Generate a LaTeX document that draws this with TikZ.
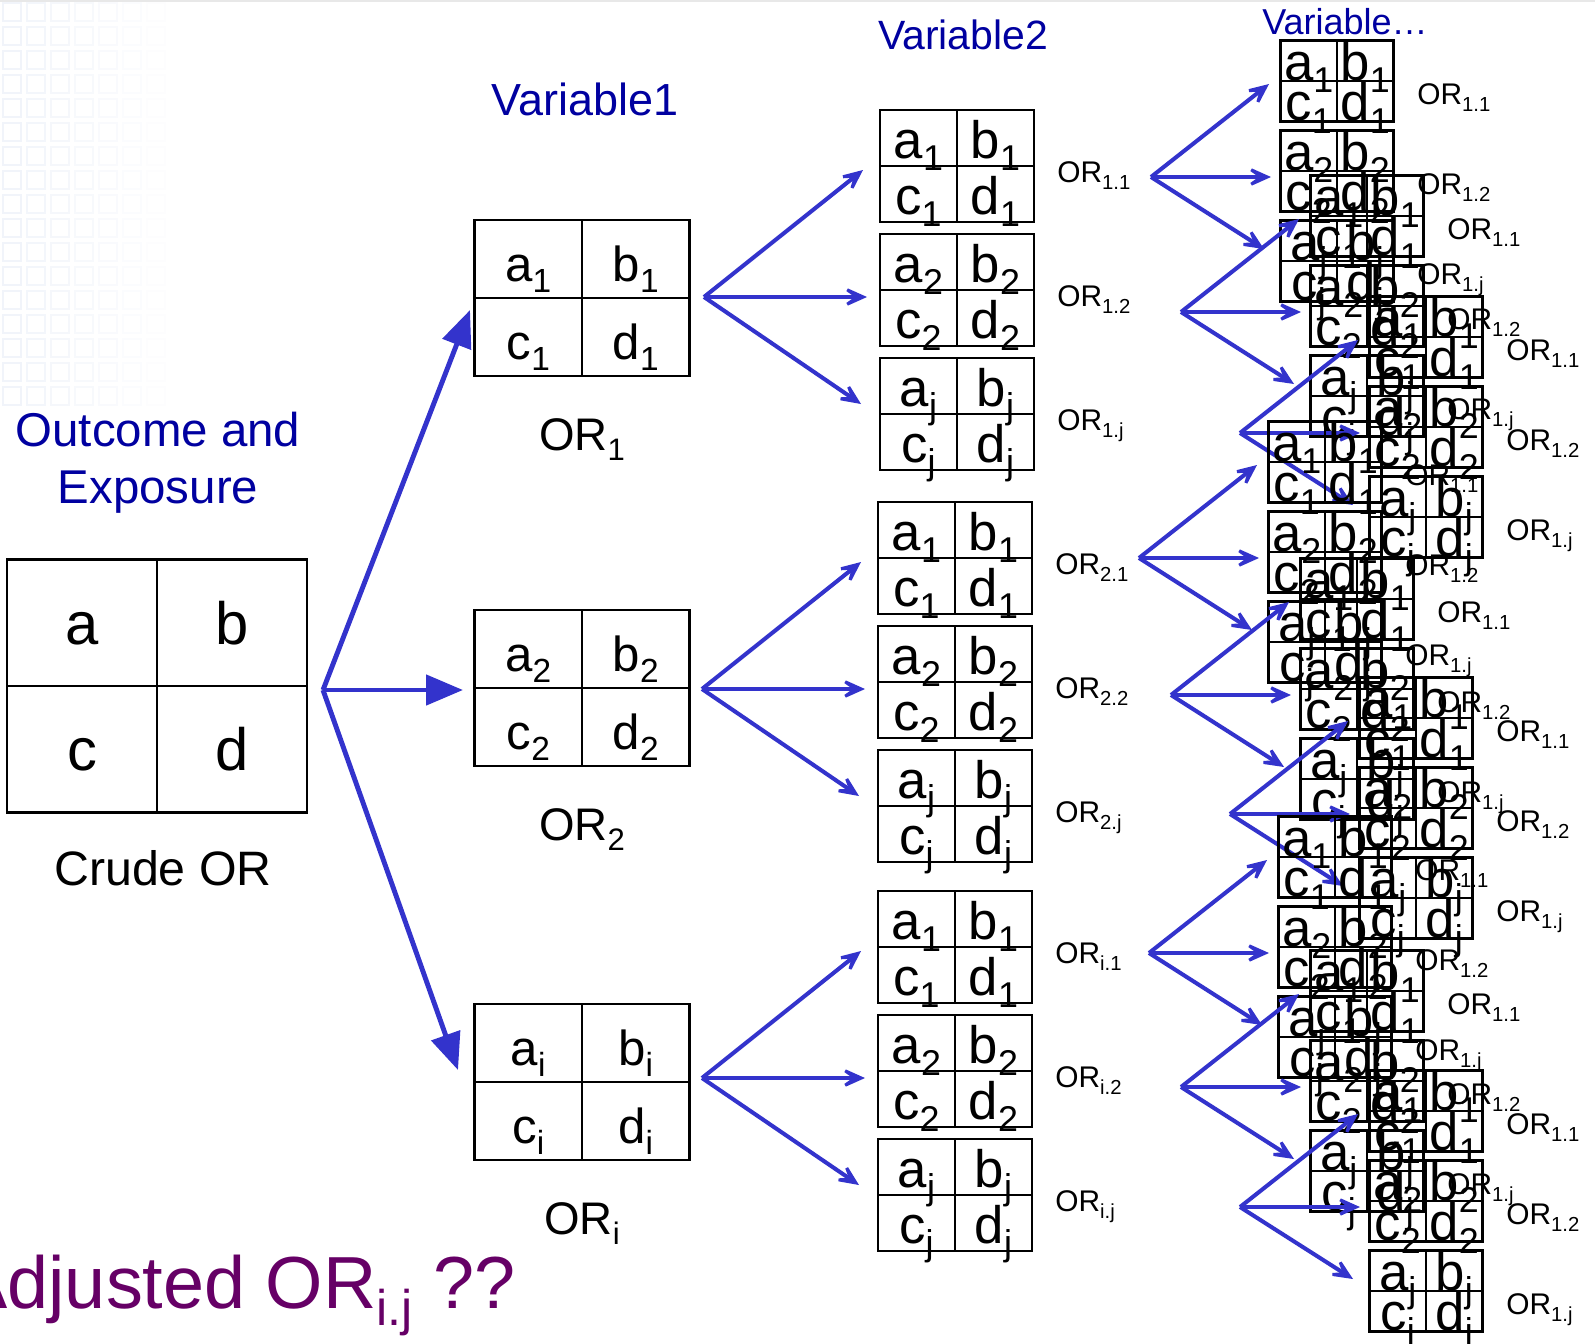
\documentclass[tikz,border=0pt]{standalone}
\usepackage{fontspec}
\setmainfont{Liberation Sans}
\usepackage{graphicx}
\usetikzlibrary{arrows.meta,calc}

\definecolor{arrowblue}{RGB}{51,51,204}
\definecolor{titleblue}{RGB}{0,0,160}
\definecolor{adjpurple}{RGB}{102,0,102}
\definecolor{slidegrid}{RGB}{241,244,250}

% lowered, smaller index
\newcommand{\sbs}[1]{\raisebox{-0.24em}{\scalebox{0.68}{#1}}}

% 2x2 table: name, centre, width, height, letter style, index, baseline lift
\newcommand{\ortable}[7]{%
  \node[tbl,minimum width=#3*0.02cm,minimum height=#4*0.02cm] (#1) at #2 {};
  \draw[tbl line] (#1.north) -- (#1.south) (#1.west) -- (#1.east);
  \node[#5] (#1-a) at ($(#1.center)+(-#3/4,-#7)$) {a\sbs{#6}};
  \node[#5] (#1-b) at ($(#1.center)+(#3/4,-#7)$) {b\sbs{#6}};
  \node[#5] (#1-c) at ($(#1.south)+(-#3/4,-#7)$) {c\sbs{#6}};
  \node[#5] (#1-d) at ($(#1.south)+(#3/4,-#7)$) {d\sbs{#6}};
}

% Variable2 fan: name, x, y, index of the parent table
\newcommand{\secondgroup}[4]{%
  \coordinate (#1) at (#2,#3);
  \coordinate (#1-up) at (#2+159,#3-127);
  \coordinate (#1-mid) at (#2+163,#3);
  \coordinate (#1-dn) at (#2+157,#3+107);
  \draw[fanarrow] (#1) -- (#1-up);
  \draw[fanarrow] (#1) -- (#1-mid);
  \draw[fanarrow] (#1) -- (#1-dn);
  \ortable{#1-t1}{(#2+253,#3-131)}{154}{112}{cell2}{1}{8}
  \ortable{#1-t2}{(#2+253,#3-7)}{154}{112}{cell2}{2}{8}
  \ortable{#1-tj}{(#2+253,#3+117)}{154}{112}{cell2}{j}{8}
  \node[orsmall] (#1-l1) at (#2+353,#3-115) {OR\sbs{#4.1}};
  \node[orsmall] (#1-l2) at (#2+353,#3+9) {OR\sbs{#4.2}};
  \node[orsmall] (#1-lj) at (#2+353,#3+133) {OR\sbs{#4.j}};
}

% Variable... fan: name, x, y
\newcommand{\thirdgroup}[3]{%
  \coordinate (#1) at (#2,#3);
  \coordinate (#1-up) at (#2+118,#3-93);
  \coordinate (#1-mid) at (#2+120,#3);
  \coordinate (#1-dn) at (#2+113,#3+72);
  \draw[fanarrow] (#1) -- (#1-up);
  \draw[fanarrow] (#1) -- (#1-mid);
  \draw[fanarrow] (#1) -- (#1-dn);
  \ortable{#1-t1}{(#2+186,#3-96)}{113}{81}{cell3}{1}{1}
  \ortable{#1-t2}{(#2+186,#3-6)}{113}{81}{cell3}{2}{1}
  \ortable{#1-tj}{(#2+186,#3+84)}{113}{81}{cell3}{j}{1}
  \node[orsmall] (#1-l1) at (#2+266,#3-73) {OR\sbs{1.1}};
  \node[orsmall] (#1-l2) at (#2+266,#3+17) {OR\sbs{1.2}};
  \node[orsmall] (#1-lj) at (#2+266,#3+107) {OR\sbs{1.j}};
}

\begin{document}
\begin{tikzpicture}[x=0.02cm,y=-0.02cm,
  tbl/.style={draw,line width=1.6pt,inner sep=0pt,outer sep=0pt},
  tbl line/.style={line width=1.6pt},
  cell0/.style={anchor=base,inner sep=0pt,font=\fontsize{34}{38}\selectfont},
  cell1/.style={anchor=base,inner sep=0pt,font=\fontsize{28}{32}\selectfont},
  cell2/.style={anchor=base,inner sep=0pt,font=\fontsize{30}{34}\selectfont},
  cell3/.style={anchor=base,inner sep=0pt,font=\fontsize{30}{34}\selectfont},
  orbig/.style={anchor=base,inner sep=0pt,font=\fontsize{26}{30}\selectfont},
  orsmall/.style={anchor=base west,inner sep=0pt,font=\fontsize{17}{20}\selectfont},
  varlabel/.style={anchor=base,inner sep=0pt,text=titleblue},
  bigarrow/.style={draw=arrowblue,line width=2.8pt,-{Triangle[length=21pt,width=17pt]}},
  fanarrow/.style={draw=arrowblue,line width=2.3pt,-{Stealth[length=19pt,width=17pt,inset=12pt]}}]
\useasboundingbox (0,0) rectangle (1595,1343);
\clip (0,0) rectangle (1595,1343);

% faint slide pattern
\foreach \i in {0,...,6}
  \foreach \j in {0,...,16}{
    \pgfmathsetmacro\op{1-\i/7}
    \draw[slidegrid,line width=1.2pt,opacity=\op]
      (\i*24+3,\j*24+3) rectangle ++(18,18);
  }
\draw[gray!18,line width=1.5pt] (0,1) -- (1595,1);

% crude table
\node[anchor=north,align=center,inner sep=0pt,text=titleblue,
  font=\fontsize{27}{32.4}\selectfont] (outcome) at (158,412) {Outcome and\\Exposure};
\ortable{crude}{(157,686)}{300}{253}{cell0}{}{42}
\node[orbig,font=\fontsize{27.5}{31}\selectfont] (crude-lab) at (163,885) {Crude OR};

% first split
\coordinate (split) at (323,690);
\coordinate (split-up) at (470,310);
\coordinate (split-mid) at (463,690);
\coordinate (split-dn) at (458,1070);
\draw[bigarrow] (split) -- (split-up);
\draw[bigarrow] (split) -- (split-mid);
\draw[bigarrow] (split) -- (split-dn);

\node[varlabel,font=\fontsize{25.6}{30}\selectfont] (var1) at (585,115) {Variable1};
\ortable{or1}{(582,298)}{215}{156}{cell1}{1}{17}
\ortable{or2}{(582,688)}{215}{156}{cell1}{2}{17}
\ortable{ori}{(582,1082)}{215}{156}{cell1}{i}{17}
\node[orbig] (or1-lab) at (582,450) {OR\sbs{1}};
\node[orbig] (or2-lab) at (582,840) {OR\sbs{2}};
\node[orbig] (ori-lab) at (582,1234) {OR\sbs{i}};

% second split
\node[varlabel,font=\fontsize{23.3}{28}\selectfont] (var2) at (963,49) {Variable2};
\secondgroup{s1}{704}{297}{1}
\secondgroup{s2}{702}{689}{2}
\secondgroup{si}{702}{1078}{i}

% third split
\node[varlabel,font=\fontsize{20.5}{24}\selectfont] (var3) at (1345,34) {Variable…};
\foreach \n/\x/\y in {g1/1151/177,g2/1181/312,g3/1240/433,
                      g4/1139/558,g5/1171/695,g6/1230/814,
                      g7/1149/953,g8/1181/1087,g9/1240/1207}{
  \thirdgroup{\n}{\x}{\y}
}

\node[anchor=base west,inner sep=0pt,text=adjpurple,
  font=\fontsize{42}{46}\selectfont] (adjusted) at (-42,1308) {Adjusted OR\sbs{i.j} ??};
\end{tikzpicture}
\end{document}
